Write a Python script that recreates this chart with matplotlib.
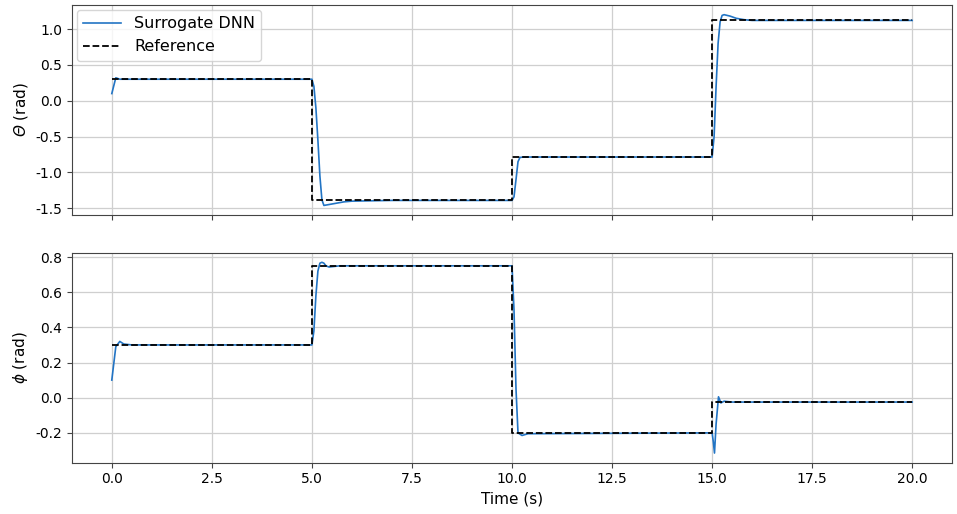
import matplotlib
matplotlib.use("Agg")
import matplotlib.pyplot as plt

plt.rcParams['axes.unicode_minus'] = False
plt.rcParams['font.family'] = ['DejaVu Sans']
plt.rcParams['mathtext.fontset'] = 'custom'
plt.rcParams['mathtext.rm'] = 'DejaVu Sans:italic'
plt.rcParams['mathtext.it'] = 'DejaVu Sans:italic'

# Reference step trajectories
ref_t = [0.0, 5.0, 5.0, 10.0, 10.0, 15.0, 15.0, 20.0]
ref_theta = [0.30, 0.30, -1.39, -1.39, -0.785, -0.785, 1.12, 1.12]
ref_phi = [0.30, 0.30, 0.75, 0.75, -0.20, -0.20, -0.025, -0.025]

# Surrogate DNN outputs
sur_t_theta = [0.0, 0.1, 0.2, 0.4, 5.0, 5.05, 5.1, 5.15, 5.2, 5.25, 5.3, 5.4, 5.6, 5.8, 6.0, 7.0,
               10.0, 10.05, 10.1, 10.15, 10.2, 10.3, 15.0, 15.05, 15.1, 15.15, 15.2, 15.25, 15.3,
               15.45, 15.6, 15.8, 16.0, 20.0]
sur_theta = [0.10, 0.32, 0.30, 0.30, 0.30, 0.20, -0.10, -0.55, -1.05, -1.38, -1.46, -1.45, -1.43,
             -1.41, -1.40, -1.39, -1.39, -1.34, -1.10, -0.85, -0.79, -0.785, -0.785, -0.50, 0.20,
             0.80, 1.10, 1.19, 1.20, 1.18, 1.15, 1.13, 1.12, 1.12]

sur_t_phi = [0.0, 0.1, 0.2, 0.3, 0.5, 5.0, 5.05, 5.1, 5.15, 5.2, 5.25, 5.3, 5.35, 5.43, 5.5, 5.7, 10.0,
             10.05, 10.1, 10.15, 10.25, 10.4, 15.0, 15.03, 15.06, 15.1, 15.16, 15.22, 15.3, 15.5, 20.0]
sur_phi = [0.10, 0.29, 0.32, 0.305, 0.30, 0.30, 0.38, 0.58, 0.72, 0.765, 0.77, 0.765, 0.75, 0.743,
           0.745, 0.75, 0.75, 0.50, 0.05, -0.20, -0.215, -0.205, -0.20, -0.25, -0.315, -0.15, 0.005,
           -0.03, -0.02, -0.025, -0.025]

fig, (ax1, ax2) = plt.subplots(2, 1, sharex=True, figsize=(9.57, 5.14), dpi=100)
fig.subplots_adjust(left=0.075, right=0.995, top=0.99, bottom=0.1, hspace=0.18)

blue = '#2274c4'
for ax in (ax1, ax2):
    ax.grid(True, color='#cfcfcf', linewidth=0.9)
    ax.set_axisbelow(True)
    for s in ax.spines.values():
        s.set_color('#444444')
    ax.tick_params(labelsize=10, color='#444444')

ax1.plot(sur_t_theta, sur_theta, color=blue, lw=1.2, label='Surrogate DNN')
ax1.plot(ref_t, ref_theta, 'k--', lw=1.3, label='Reference')
ax1.set_ylabel(r'$\Theta$ (rad)', fontsize=11)
ax1.set_yticks([-1.5, -1.0, -0.5, 0.0, 0.5, 1.0])
ax1.legend(loc='upper left', fontsize=11.5, borderaxespad=0.3, handlelength=2.4)

ax2.plot(sur_t_phi, sur_phi, color=blue, lw=1.2)
ax2.plot(ref_t, ref_phi, 'k--', lw=1.3)
ax2.set_ylabel(r'$\phi$ (rad)', fontsize=11)
ax2.set_yticks([-0.2, 0.0, 0.2, 0.4, 0.6, 0.8])
ax2.set_xticks([0.0, 2.5, 5.0, 7.5, 10.0, 12.5, 15.0, 17.5, 20.0])
ax2.set_xlabel('Time (s)', fontsize=11)

fig.savefig('out.png', dpi=100)
